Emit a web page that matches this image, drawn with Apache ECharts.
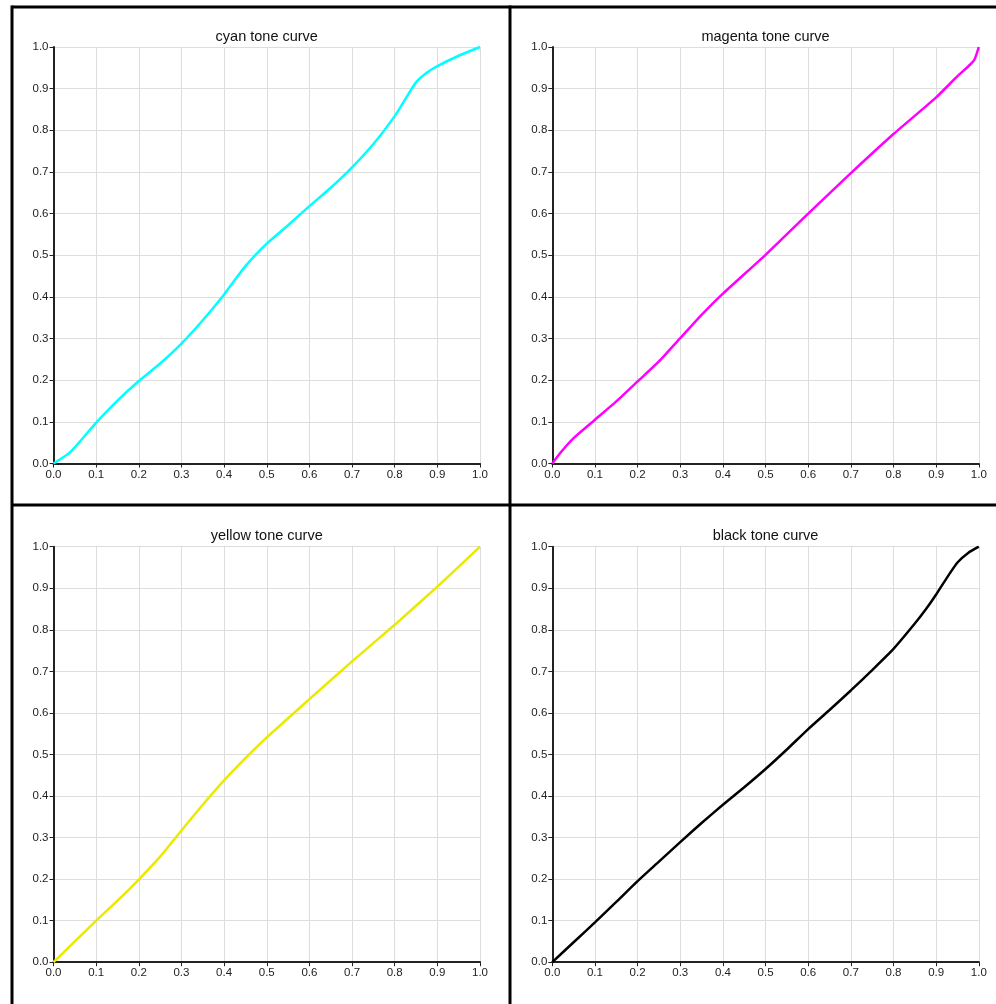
<!DOCTYPE html>
<html>
<head>
<meta charset="utf-8">
<script src="https://cdn.jsdelivr.net/npm/echarts@6/dist/echarts.min.js"></script>
<style>
html,body{margin:0;padding:0;background:#fff;}
#chart{width:996px;height:1004px;}
</style>
</head>
<body>
<div id="chart"></div>
<script>
// ---- data ----
const titles = ["cyan tone curve", "magenta tone curve", "yellow tone curve", "black tone curve"];
const tickValues = [0, 0.1, 0.2, 0.3, 0.4, 0.5, 0.6, 0.7, 0.8, 0.9, 1.0];

const cyanX = [0, 0.04, 0.1, 0.15, 0.2, 0.25, 0.3, 0.35, 0.4, 0.45, 0.5, 0.55, 0.6, 0.65, 0.7, 0.75, 0.8, 0.825, 0.85, 0.875, 0.9, 0.95, 1.0];
const cyanY = [0, 0.028, 0.098, 0.151, 0.198, 0.24, 0.288, 0.344, 0.406, 0.474, 0.528, 0.572, 0.618, 0.662, 0.711, 0.767, 0.834, 0.875, 0.915, 0.938, 0.954, 0.979, 1.0];

const magentaX = [0, 0.02, 0.05, 0.1, 0.15, 0.2, 0.25, 0.3, 0.35, 0.4, 0.5, 0.6, 0.7, 0.8, 0.9, 0.95, 0.98, 0.99, 1.0];
const magentaY = [0, 0.027, 0.061, 0.105, 0.149, 0.197, 0.245, 0.301, 0.357, 0.408, 0.501, 0.6, 0.697, 0.791, 0.879, 0.93, 0.958, 0.97, 1.0];

const yellowX = [0, 0.05, 0.1, 0.15, 0.2, 0.25, 0.3, 0.35, 0.4, 0.45, 0.5, 0.55, 0.6, 0.7, 0.8, 0.9, 1.0];
const yellowY = [0, 0.05, 0.1, 0.148, 0.199, 0.254, 0.317, 0.379, 0.4375, 0.491, 0.541, 0.587, 0.633, 0.724, 0.812, 0.904, 1.0];

const blackX = [0, 0.05, 0.1, 0.15, 0.2, 0.25, 0.3, 0.35, 0.4, 0.45, 0.5, 0.55, 0.6, 0.65, 0.7, 0.75, 0.8, 0.85, 0.875, 0.9, 0.925, 0.95, 0.975, 1.0];
const blackY = [0, 0.048, 0.096, 0.145, 0.195, 0.242, 0.289, 0.335, 0.379, 0.421, 0.465, 0.512, 0.561, 0.607, 0.654, 0.703, 0.754, 0.815, 0.848, 0.885, 0.925, 0.962, 0.985, 1.0];

// ---- layout / style ----
const curves = [
  {x: cyanX, y: cyanY, color: '#00ffff'},
  {x: magentaX, y: magentaY, color: '#ff00ff'},
  {x: yellowX, y: yellowY, color: '#eaea00'},
  {x: blackX, y: blackY, color: '#000000'}
];
const grids = [
  {left: 53.5, top: 47, width: 426.5, height: 416.5},
  {left: 552.3, top: 47, width: 426.5, height: 416.5},
  {left: 53.5, top: 546.7, width: 426.5, height: 415.5},
  {left: 552.3, top: 546.7, width: 426.5, height: 415.5}
];
const titleTops = [29, 29, 528, 528];
const FONT = 'Arial, "Liberation Sans", sans-serif';

const fmt = v => v.toFixed(1);
const axisCommon = {
  type: 'value', min: 0, max: 1, interval: 0.1,
  axisLine: {show: true, lineStyle: {color: '#222', width: 2}},
  axisTick: {show: true, length: 4, lineStyle: {color: '#222', width: 1}},
  axisLabel: {color: '#222', fontSize: 11.5, fontFamily: FONT, formatter: fmt, margin: 5},
  splitLine: {show: true, lineStyle: {color: '#dddddd', width: 1}}
};

const option = {
  animation: false,
  backgroundColor: '#fff',
  title: titles.map((t, i) => ({
    text: t,
    left: grids[i].left + grids[i].width / 2,
    top: titleTops[i],
    textAlign: 'center',
    padding: 0,
    textStyle: {fontSize: 14.5, fontWeight: 'normal', color: '#111', fontFamily: FONT}
  })),
  grid: grids.map(g => Object.assign({containLabel: false}, g)),
  xAxis: grids.map((g, i) => Object.assign({}, axisCommon, {gridIndex: i, position: 'bottom'})),
  yAxis: grids.map((g, i) => Object.assign({}, axisCommon, {gridIndex: i, position: 'left'})),
  series: curves.map((c, i) => ({
    type: 'line',
    xAxisIndex: i, yAxisIndex: i,
    data: c.x.map((x, k) => [x, c.y[k]]),
    smooth: 0.2,
    showSymbol: false,
    lineStyle: {color: c.color, width: 2.5},
    z: 5
  })),
  graphic: [
    {type: 'line', shape: {x1: 12, y1: 7, x2: 1000, y2: 7}, style: {stroke: '#000', lineWidth: 3}},
    {type: 'line', shape: {x1: 12, y1: 505, x2: 1000, y2: 505}, style: {stroke: '#000', lineWidth: 3}},
    {type: 'line', shape: {x1: 12, y1: 5.5, x2: 12, y2: 1010}, style: {stroke: '#000', lineWidth: 3}},
    {type: 'line', shape: {x1: 510, y1: 5.5, x2: 510, y2: 1010}, style: {stroke: '#000', lineWidth: 3}}
  ]
};

const chart = echarts.init(document.getElementById('chart'), null, {renderer: 'canvas'});
chart.setOption(option);
</script>
</body>
</html>
